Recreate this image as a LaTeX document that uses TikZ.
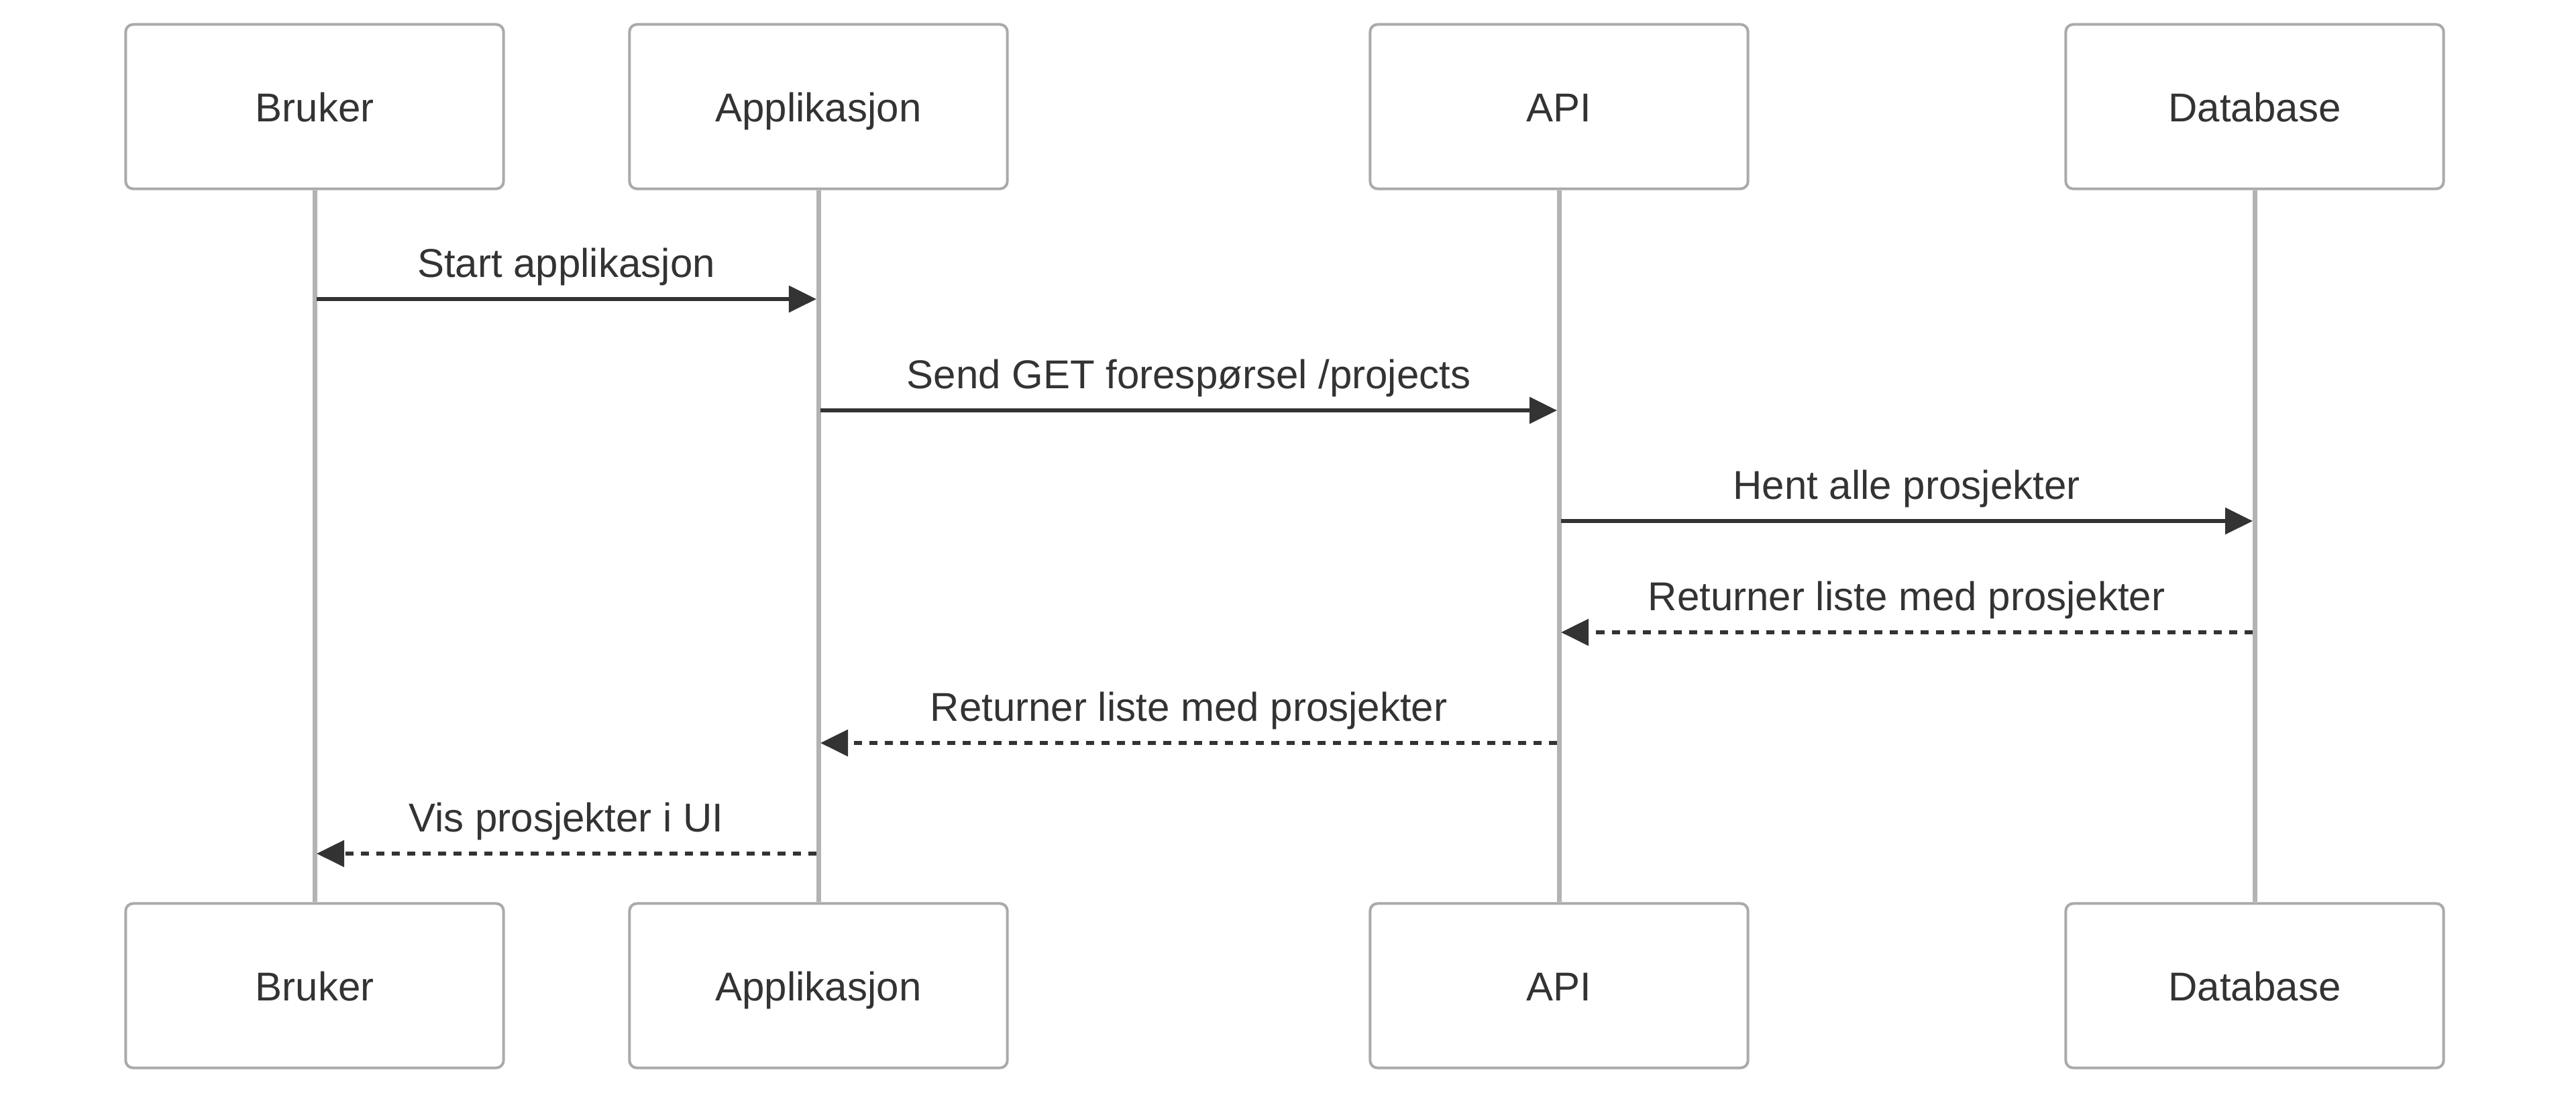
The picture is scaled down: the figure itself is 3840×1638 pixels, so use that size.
\documentclass[tikz,border=0pt]{standalone}
\usepackage{fontspec}
\setmainfont{Liberation Sans}
\usetikzlibrary{arrows.meta}
\definecolor{txt}{HTML}{333333}
\definecolor{edge}{HTML}{AAAAAA}
\definecolor{life}{HTML}{B3B3B3}
\tikzset{
  actor/.style={rectangle,draw=edge,line width=0.04cm,rounded corners=0.11cm,fill=white,
    minimum width=5.63cm,minimum height=2.45cm,text=txt,inner sep=0pt,
    text height=0.55cm,text depth=0.11cm},
  lifeline/.style={draw=life,line width=0.07cm},
  msg/.style={draw=txt,line width=0.055cm,-{Triangle[length=0.41cm,width=0.39cm]},
    shorten <=0.03cm,shorten >=0.03cm},
  reply/.style={msg,dash pattern=on 0.12cm off 0.11cm},
  lbl/.style={anchor=base,text=txt,inner sep=0pt}
}

\begin{document}
\begin{tikzpicture}[x=0.01cm,y=-0.01cm,font=\fontsize{17.07}{20}\selectfont]
    \useasboundingbox (0,0) rectangle (3840,1638);
    % actors, top row
    \node (b1) at (469,159) [actor] {Bruker};
    \node (a1) at (1220,159) [actor] {Applikasjon};
    \node (p1) at (2324,159) [actor] {API};
    \node (d1) at (3361,159) [actor] {Database};
    % actors, bottom row
    \node (b2) at (469,1470) [actor] {Bruker};
    \node (a2) at (1220,1470) [actor] {Applikasjon};
    \node (p2) at (2324,1470) [actor] {API};
    \node (d2) at (3361,1470) [actor] {Database};
    % lifelines
    \draw [lifeline] (b1) -- (b2);
    \draw [lifeline] (a1) -- (a2);
    \draw [lifeline] (p1) -- (p2);
    \draw [lifeline] (d1) -- (d2);
    % message rows
    \coordinate (m1) at (0,446);
    \coordinate (m2) at (0,612);
    \coordinate (m3) at (0,777);
    \coordinate (m4) at (0,943);
    \coordinate (m5) at (0,1108);
    \coordinate (m6) at (0,1273);
    \draw [msg] (b1 |- m1) -- (a1 |- m1);
    \draw [msg] (a1 |- m2) -- (p1 |- m2);
    \draw [msg] (p1 |- m3) -- (d1 |- m3);
    \draw [reply] (d1 |- m4) -- (p1 |- m4);
    \draw [reply] (p1 |- m5) -- (a1 |- m5);
    \draw [reply] (a1 |- m6) -- (b1 |- m6);
    % labels
    \node (l1) at (844,413) [lbl] {Start applikasjon};
    \node (l2) at (1772,579) [lbl] {Send GET forespørsel /projects};
    \node (l3) at (2842,744) [lbl] {Hent alle prosjekter};
    \node (l4) at (2842,910) [lbl] {Returner liste med prosjekter};
    \node (l5) at (1772,1075) [lbl] {Returner liste med prosjekter};
    \node (l6) at (844,1240) [lbl] {Vis prosjekter i UI};
  \end{tikzpicture}
\end{document}
